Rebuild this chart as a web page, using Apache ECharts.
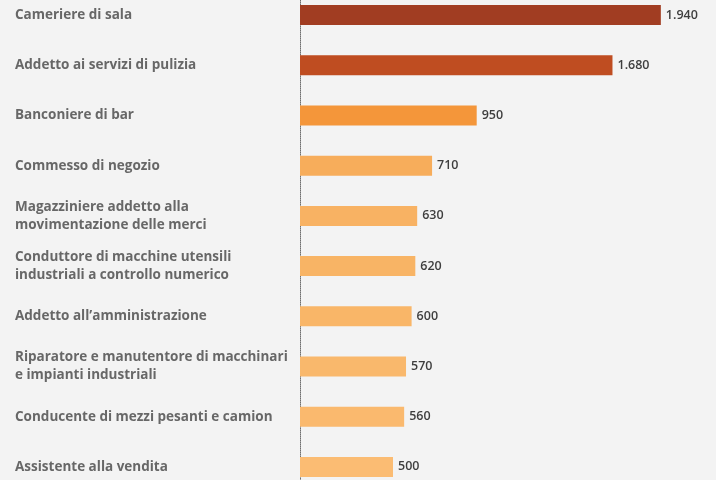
<!DOCTYPE html>
<html>
<head>
<meta charset="utf-8">
<style>
html,body{margin:0;padding:0;background:#f3f3f3;overflow:hidden;width:716px;height:480px;}
#c{position:absolute;left:0;top:-10px;width:716px;height:502px;}
</style>
<script src="https://cdn.jsdelivr.net/npm/echarts@6/dist/echarts.min.js"></script>
</head>
<body>
<div id="c"></div>
<script>
const categories = [
  "Cameriere di sala",
  "Addetto ai servizi di pulizia",
  "Banconiere di bar",
  "Commesso di negozio",
  "Magazziniere addetto alla\nmovimentazione delle merci",
  "Conduttore di macchine utensili\nindustriali a controllo numerico",
  "Addetto all\u2019amministrazione",
  "Riparatore e manutentore di macchinari\ne impianti industriali",
  "Conducente di mezzi pesanti e camion",
  "Assistente alla vendita"
];
const values = [1940, 1680, 950, 710, 630, 620, 600, 570, 560, 500];

const palette = ["#a13d22", "#bf4d21", "#f4963a", "#f7ad5b", "#f8b263", "#f8b465", "#f9b668", "#f9b86c", "#fab96e", "#fbbc73"];

function fmt(v) {
  return String(v).replace(/\B(?=(\d{3})+(?!\d))/g, ".");
}

const chart = echarts.init(document.getElementById('c'), null, {renderer: 'canvas'});
chart.setOption({
  backgroundColor: '#f3f3f3',
  animation: false,
  grid: {left: 300, right: 44, top: 0, bottom: 0, containLabel: false},
  xAxis: {
    type: 'value', min: 0, max: 2000, show: false
  },
  yAxis: {
    type: 'category',
    inverse: true,
    data: categories,
    axisLine: {show: true, lineStyle: {color: '#6f6f6f', width: 1, type: 'dotted'}},
    axisTick: {show: false},
    splitLine: {show: false},
    axisLabel: {
      align: 'left',
      margin: 285,
      color: '#676767',
      fontFamily: 'Open Sans',
      fontWeight: 'bold',
      fontSize: 13.5,
      lineHeight: 18
    }
  },
  series: [{
    type: 'bar',
    data: values,
    barWidth: 20,
    itemStyle: {
      color: function (p) { return palette[p.dataIndex]; }
    },
    label: {
      show: true,
      position: 'right',
      distance: 5,
      color: '#3e3e3e',
      fontFamily: 'Open Sans',
      fontWeight: 600,
      fontSize: 12.5,
      formatter: function (p) { return fmt(p.value); }
    }
  }]
});
</script>
</body>
</html>
